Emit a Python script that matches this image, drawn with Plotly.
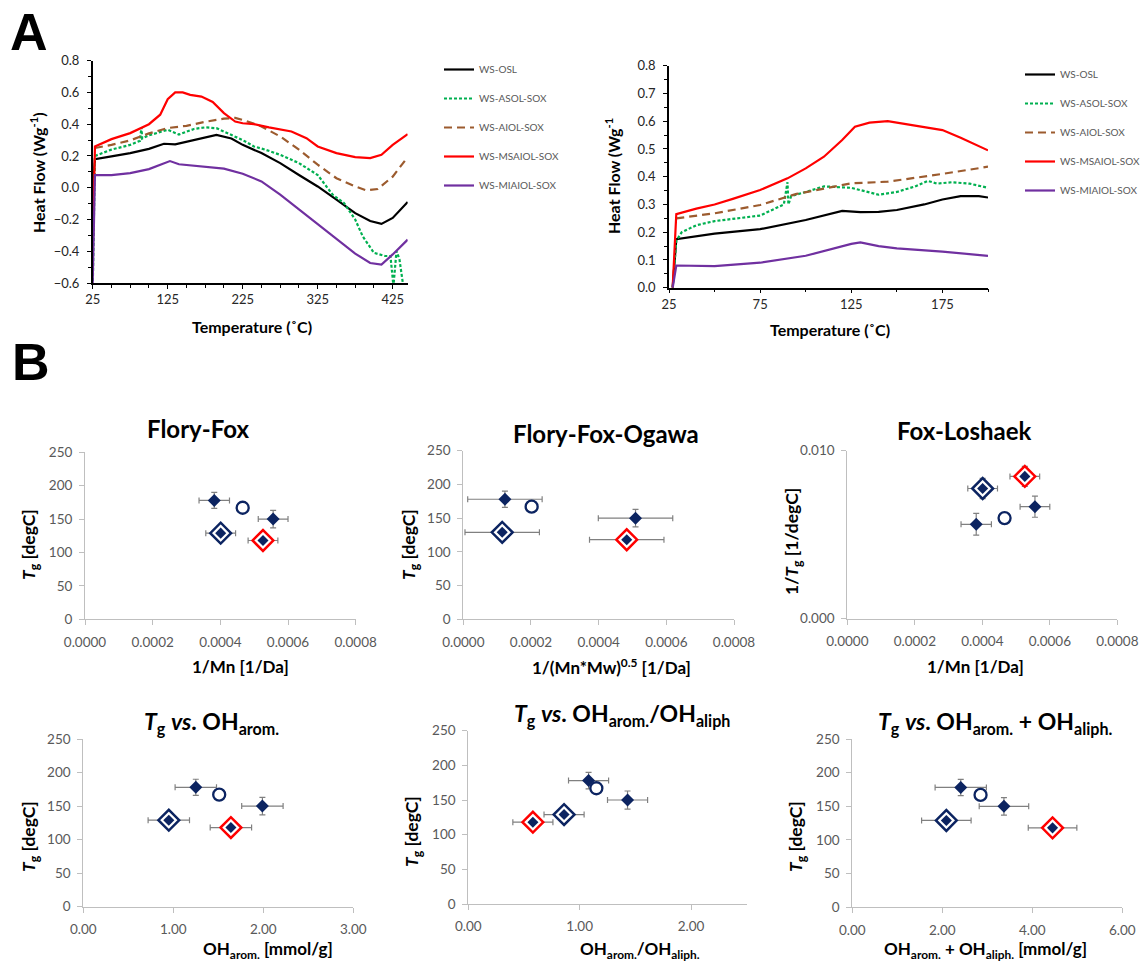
import plotly.graph_objects as go

W, H = 1142, 962

# ---------------- Panel A : DSC curves (full range) ----------------
osl_T = [25, 28, 50, 75, 100, 120, 135, 160, 190, 210, 225, 250, 275, 300, 325, 350, 375, 395, 410, 425, 445]
osl_HF = [0.0, 0.18, 0.197, 0.218, 0.245, 0.277, 0.273, 0.30, 0.333, 0.31, 0.27, 0.218, 0.155, 0.08, 0.008,
          -0.075, -0.16, -0.21, -0.228, -0.19, -0.09]

asol_T = [25, 28, 50, 75, 88, 90, 91, 100, 125, 140, 160, 175, 190, 210, 225, 240, 255, 275, 300, 325, 345,
          360, 375, 385, 400, 415, 422, 426, 430, 434, 440]
asol_HF = [-0.65, 0.20, 0.24, 0.27, 0.295, 0.38, 0.31, 0.33, 0.365, 0.335, 0.37, 0.38, 0.375, 0.333, 0.30, 0.26,
           0.24, 0.207, 0.155, 0.08, -0.044, -0.096, -0.2, -0.306, -0.41, -0.43, -0.43, -0.62, -0.40, -0.45, -0.65]

aiol_T = [28, 50, 75, 100, 125, 150, 175, 200, 215, 230, 250, 275, 300, 325, 350, 375, 390, 405, 425, 445]
aiol_HF = [0.25, 0.27, 0.298, 0.342, 0.376, 0.39, 0.415, 0.435, 0.44, 0.42, 0.386, 0.323, 0.24, 0.145, 0.06,
           0.008, -0.017, -0.008, 0.07, 0.193]

msaiol_T = [25, 28, 50, 75, 100, 115, 125, 135, 145, 155, 170, 185, 200, 215, 225, 240, 260, 290, 310, 325,
            350, 375, 395, 410, 425, 445]
msaiol_HF = [-0.40, 0.26, 0.306, 0.344, 0.40, 0.46, 0.557, 0.60, 0.60, 0.585, 0.574, 0.54, 0.47, 0.417, 0.406,
             0.40, 0.38, 0.354, 0.312, 0.26, 0.218, 0.193, 0.187, 0.207, 0.27, 0.337]

miaiol_T = [25, 28, 50, 75, 100, 115, 128, 140, 175, 200, 225, 250, 275, 300, 325, 350, 375, 395, 410, 425, 445]
miaiol_HF = [-0.6, 0.08, 0.08, 0.092, 0.117, 0.145, 0.168, 0.148, 0.134, 0.12, 0.088, 0.04, -0.044, -0.138,
             -0.233, -0.327, -0.415, -0.474, -0.484, -0.42, -0.327]

# ---------------- Panel A : DSC curves (25-200 °C) ----------------
osl_T_z = [27, 29, 50, 75, 100, 120, 130, 140, 150, 165, 175, 185, 195, 200]
osl_HF_z = [0.0, 0.175, 0.195, 0.211, 0.244, 0.277, 0.272, 0.273, 0.28, 0.30, 0.318, 0.33, 0.33, 0.325]

asol_T_z = [27, 29, 32, 40, 50, 75, 88, 90, 90.5, 92, 100, 110, 125, 135, 140, 150, 160, 167, 172, 180, 190, 200]
asol_HF_z = [0.0, 0.17, 0.20, 0.225, 0.24, 0.26, 0.30, 0.38, 0.30, 0.33, 0.345, 0.365, 0.36, 0.345, 0.335, 0.345,
             0.365, 0.385, 0.375, 0.38, 0.375, 0.36]

aiol_T_z = [29, 50, 75, 95, 125, 145, 175, 200]
aiol_HF_z = [0.25, 0.268, 0.298, 0.338, 0.376, 0.382, 0.41, 0.436]

msaiol_T_z = [27, 29, 40, 50, 60, 75, 90, 100, 110, 120, 127, 135, 145, 150, 155, 165, 175, 185, 195, 200]
msaiol_HF_z = [0.0, 0.265, 0.285, 0.30, 0.32, 0.352, 0.394, 0.43, 0.472, 0.532, 0.58, 0.595, 0.60, 0.595, 0.588,
               0.58, 0.568, 0.54, 0.51, 0.495]

miaiol_T_z = [27, 29, 50, 75, 100, 115, 125, 130, 140, 150, 175, 200]
miaiol_HF_z = [0.0, 0.08, 0.078, 0.09, 0.115, 0.14, 0.158, 0.163, 0.15, 0.142, 0.13, 0.115]

series_names = ["WS-OSL", "WS-ASOL-SOX", "WS-AIOL-SOX", "WS-MSAIOL-SOX", "WS-MIAIOL-SOX"]

# ---------------- Panel B : Tg correlations ----------------
# sample order: [diamond, circle, diamond, big navy diamond, big red diamond]
tg = [178, 167, 150, 129, 118]
tg_err = [12, 0, 13, 10, 10]
inv_tg = [0.00562, 0.00599, 0.00667, 0.00775, 0.00847]
inv_tg_err = [0.00065, 0, 0.00063, 0.0006, 0.0006]
inv_mn = [0.000382, 0.000466, 0.000556, 0.000401, 0.000526]
inv_mn_err = [0.000045, 0, 0.000044, 0.000044, 0.000044]
inv_mnmw = [0.000123, 0.000202, 0.000509, 0.000115, 0.000483]
inv_mnmw_err = [0.00011, 0, 0.00011, 0.00011, 0.00011]
oh_arom = [1.25, 1.51, 1.99, 0.95, 1.64]
oh_arom_err = [0.23, 0, 0.23, 0.23, 0.23]
oh_ratio = [1.08, 1.15, 1.43, 0.86, 0.58]
oh_ratio_err = [0.18, 0, 0.18, 0.18, 0.18]
oh_sum = [2.41, 2.85, 3.37, 2.09, 4.45]
oh_sum_err = [0.57, 0, 0.55, 0.55, 0.54]

NAVY = "#0c2461"
RED = "#ff0000"
EGRAY = "#808080"
FONT = "Lato"


def px(x):
    return x / W


def py(y):
    return 1 - y / H


fig = go.Figure()

line_styles = [
    dict(color="#000000", width=2.2, dash="solid"),
    dict(color="#00b050", width=2.2, dash="3px,2px"),
    dict(color="#9c5b2e", width=2.2, dash="8px,5px"),
    dict(color="#ff0000", width=2.2, dash="solid"),
    dict(color="#7030a0", width=2.2, dash="solid"),
]

full = [(osl_T, osl_HF), (asol_T, asol_HF), (aiol_T, aiol_HF), (msaiol_T, msaiol_HF), (miaiol_T, miaiol_HF)]
zoomd = [(osl_T_z, osl_HF_z), (asol_T_z, asol_HF_z), (aiol_T_z, aiol_HF_z), (msaiol_T_z, msaiol_HF_z),
         (miaiol_T_z, miaiol_HF_z)]

for i, (xs, ys) in enumerate(full):
    fig.add_trace(go.Scatter(x=xs, y=ys, mode="lines", name=series_names[i], line=line_styles[i],
                             xaxis="x", yaxis="y", legend="legend", legendgroup="a%d" % i))
for i, (xs, ys) in enumerate(zoomd):
    fig.add_trace(go.Scatter(x=xs, y=ys, mode="lines", name=series_names[i], line=line_styles[i],
                             xaxis="x2", yaxis="y2", legend="legend2", legendgroup="b%d" % i))


def add_panel(k, xs, xerr, ys, yerr):
    xa, ya = "x%d" % k, "y%d" % k
    ex = dict(type="data", color=EGRAY, thickness=1.2, width=3)
    idx = [0, 2]
    fig.add_trace(go.Scatter(
        x=[xs[i] for i in idx], y=[ys[i] for i in idx], mode="markers", xaxis=xa, yaxis=ya, showlegend=False,
        marker=dict(symbol="diamond", size=10, color=NAVY, line=dict(width=0)),
        error_x=dict(ex, array=[xerr[i] for i in idx]), error_y=dict(ex, array=[yerr[i] for i in idx])))
    fig.add_trace(go.Scatter(
        x=[xs[1]], y=[ys[1]], mode="markers", xaxis=xa, yaxis=ya, showlegend=False,
        marker=dict(symbol="circle", size=12, color="white", line=dict(width=2.3, color=NAVY))))
    idx = [3, 4]
    fig.add_trace(go.Scatter(
        x=[xs[i] for i in idx], y=[ys[i] for i in idx], mode="markers", xaxis=xa, yaxis=ya, showlegend=False,
        marker=dict(symbol="diamond", size=16, color="white", line=dict(width=2.5, color=[NAVY, RED])),
        error_x=dict(ex, array=[xerr[i] for i in idx]), error_y=dict(ex, array=[yerr[i] for i in idx])))
    fig.add_trace(go.Scatter(
        x=[xs[i] for i in idx], y=[ys[i] for i in idx], mode="markers", xaxis=xa, yaxis=ya, showlegend=False,
        marker=dict(symbol="diamond", size=8.5, color=NAVY, line=dict(width=0))))


add_panel(3, inv_mn, inv_mn_err, tg, tg_err)
add_panel(4, inv_mnmw, inv_mnmw_err, tg, tg_err)
add_panel(5, inv_mn, inv_mn_err, inv_tg, inv_tg_err)
add_panel(6, oh_arom, oh_arom_err, tg, tg_err)
add_panel(7, oh_ratio, oh_ratio_err, tg, tg_err)
add_panel(8, oh_sum, oh_sum_err, tg, tg_err)

top_ax = dict(showline=True, linecolor="#000000", linewidth=1.5, showgrid=False, zeroline=False,
              ticks="outside", ticklen=4, tickcolor="#000000",
              tickfont=dict(family=FONT, size=13, color="#262626"))
bot_ax = dict(showline=True, linecolor="#bfbfbf", linewidth=1, showgrid=False, zeroline=False,
              ticks="outside", ticklen=5, tickcolor="#bfbfbf",
              tickfont=dict(family=FONT, size=13.5, color="#595959"))
bot_x = dict(bot_ax, ticklabelstandoff=5)
bot_y = dict(bot_ax, ticklabelstandoff=4)


def dom_x(a, b):
    return [px(a), px(b)]


def dom_y(top, bottom):
    return [py(bottom), py(top)]


layout = dict(
    width=W, height=H, paper_bgcolor="white", plot_bgcolor="white",
    margin=dict(l=0, r=0, t=0, b=0, autoexpand=False),
    xaxis=dict(top_ax, domain=dom_x(92.7, 407.7), range=[25, 445], tickvals=[25, 125, 225, 325, 425],
               minor=dict(dtick=25, tick0=25, ticks="outside", ticklen=3, tickcolor="#000000"), anchor="y"),
    yaxis=dict(top_ax, domain=dom_y(60.7, 283), range=[-0.6, 0.8], dtick=0.2, tickformat=".1f",
               ticklabelstandoff=5,
               minor=dict(dtick=0.1, ticks="outside", ticklen=3, tickcolor="#000000"), anchor="x"),
    xaxis2=dict(top_ax, domain=dom_x(669, 988), range=[25, 200], tickvals=[25, 75, 125, 175],
                minor=dict(dtick=25, tick0=25, ticks="outside", ticklen=3, tickcolor="#000000"), anchor="y2"),
    yaxis2=dict(top_ax, domain=dom_y(65.7, 287.7), range=[0, 0.8], dtick=0.1, tickformat=".1f",
                ticklabelstandoff=5,
                minor=dict(dtick=0.05, ticks="outside", ticklen=3, tickcolor="#000000"), anchor="x2"),
    xaxis3=dict(bot_x, domain=dom_x(85, 355.7), range=[0, 0.0008], dtick=0.0002, tickformat=".4f", anchor="y3"),
    yaxis3=dict(bot_y, domain=dom_y(452.3, 619.3), range=[0, 250], dtick=50, anchor="x3"),
    xaxis4=dict(bot_x, domain=dom_x(463.3, 734), range=[0, 0.0008], dtick=0.0002, tickformat=".4f", anchor="y4"),
    yaxis4=dict(bot_y, domain=dom_y(450.7, 619.3), range=[0, 250], dtick=50, anchor="x4"),
    xaxis5=dict(bot_x, domain=dom_x(847.3, 1117.3), range=[0, 0.0008], dtick=0.0002, tickformat=".4f",
                anchor="y5"),
    yaxis5=dict(bot_y, domain=dom_y(450.7, 618.7), range=[0, 0.010], tickvals=[0, 0.010], tickformat=".3f",
                anchor="x5"),
    xaxis6=dict(bot_x, domain=dom_x(83.3, 353.3), range=[0, 3], dtick=1, tickformat=".2f", anchor="y6"),
    yaxis6=dict(bot_y, domain=dom_y(739, 906.7), range=[0, 250], dtick=50, anchor="x6"),
    xaxis7=dict(bot_x, domain=dom_x(468.3, 746.7), range=[0, 2.5], tickvals=[0, 1, 2], tickformat=".2f",
                anchor="y7"),
    yaxis7=dict(bot_y, domain=dom_y(730.7, 904), range=[0, 250], dtick=50, anchor="x7"),
    xaxis8=dict(bot_x, domain=dom_x(852.3, 1122.3), range=[0, 6], dtick=2, tickformat=".2f", anchor="y8"),
    yaxis8=dict(bot_y, domain=dom_y(739, 907.3), range=[0, 250], dtick=50, anchor="x8"),
    legend=dict(x=px(439), y=py(55), xanchor="left", yanchor="top", tracegroupgap=10,
                font=dict(family=FONT, size=10, color="#595959"), bgcolor="rgba(0,0,0,0)", itemwidth=30),
    legend2=dict(x=px(1020), y=py(60), xanchor="left", yanchor="top", tracegroupgap=10,
                 font=dict(family=FONT, size=10, color="#595959"), bgcolor="rgba(0,0,0,0)", itemwidth=30),
)
fig.update_layout(**layout)

ann = []


def add_text(text, x, y, size, color="#000000", angle=0, weight="bold", family=FONT):
    ann.append(dict(text=text, x=px(x), y=py(y), xref="paper", yref="paper", showarrow=False,
                    xanchor="center", yanchor="middle", textangle=angle,
                    font=dict(family=family, size=size, color=color, weight=weight)))


add_text("A", 29, 32, 52, family="Liberation Sans")
add_text("B", 31, 362, 52, family="Liberation Sans")

add_text("Heat Flow (Wg<sup>-1</sup>)", 37, 172, 16, angle=-90)
add_text("Temperature (˚C)", 252, 326, 16)
add_text("Heat Flow (Wg<sup>-1</sup>", 612, 176, 16, angle=-90)
add_text("Temperature (˚C)", 830, 330, 16)

add_text("Flory-Fox", 198, 428, 24)
add_text("Flory-Fox-Ogawa", 606, 433, 24)
add_text("Fox-Loshaek", 964, 430, 24)
add_text("<i>T</i><sub>g</sub> <i>vs</i>. OH<sub>arom.</sub>", 211, 722, 23)
add_text("<i>T</i><sub>g</sub> <i>vs</i>. OH<sub>arom.</sub>/OH<sub>aliph</sub>", 622, 714, 23)
add_text("<i>T</i><sub>g</sub> <i>vs</i>. OH<sub>arom.</sub> + OH<sub>aliph.</sub>", 995, 722, 23)

add_text("<i>T</i><sub>g</sub> [degC]", 30, 545, 17.5, angle=-90)
add_text("<i>T</i><sub>g</sub> [degC]", 410, 545, 17.5, angle=-90)
add_text("1/<i>T</i><sub>g</sub> [1/degC]", 793, 542, 17.5, angle=-90)
add_text("<i>T</i><sub>g</sub> [degC]", 30, 837, 17.5, angle=-90)
add_text("<i>T</i><sub>g</sub> [degC]", 413, 832, 17.5, angle=-90)
add_text("<i>T</i><sub>g</sub> [degC]", 797, 837, 17.5, angle=-90)

add_text("1/Mn [1/Da]", 240, 666, 17)
add_text("1/(Mn*Mw)<sup>0.5</sup> [1/Da]", 611, 666, 17)
add_text("1/Mn [1/Da]", 975, 666, 17)
add_text("OH<sub>arom.</sub> [mmol/g]", 268, 950, 17)
add_text("OH<sub>arom.</sub>/OH<sub>aliph.</sub>", 640, 950, 17)
add_text("OH<sub>arom.</sub> + OH<sub>aliph.</sub> [mmol/g]", 985, 950, 17)

fig.update_layout(annotations=ann)

fig.write_html("out.html", config={"displayModeBar": False},
               post_script="document.body.style.margin='0';document.body.style.padding='0';")
